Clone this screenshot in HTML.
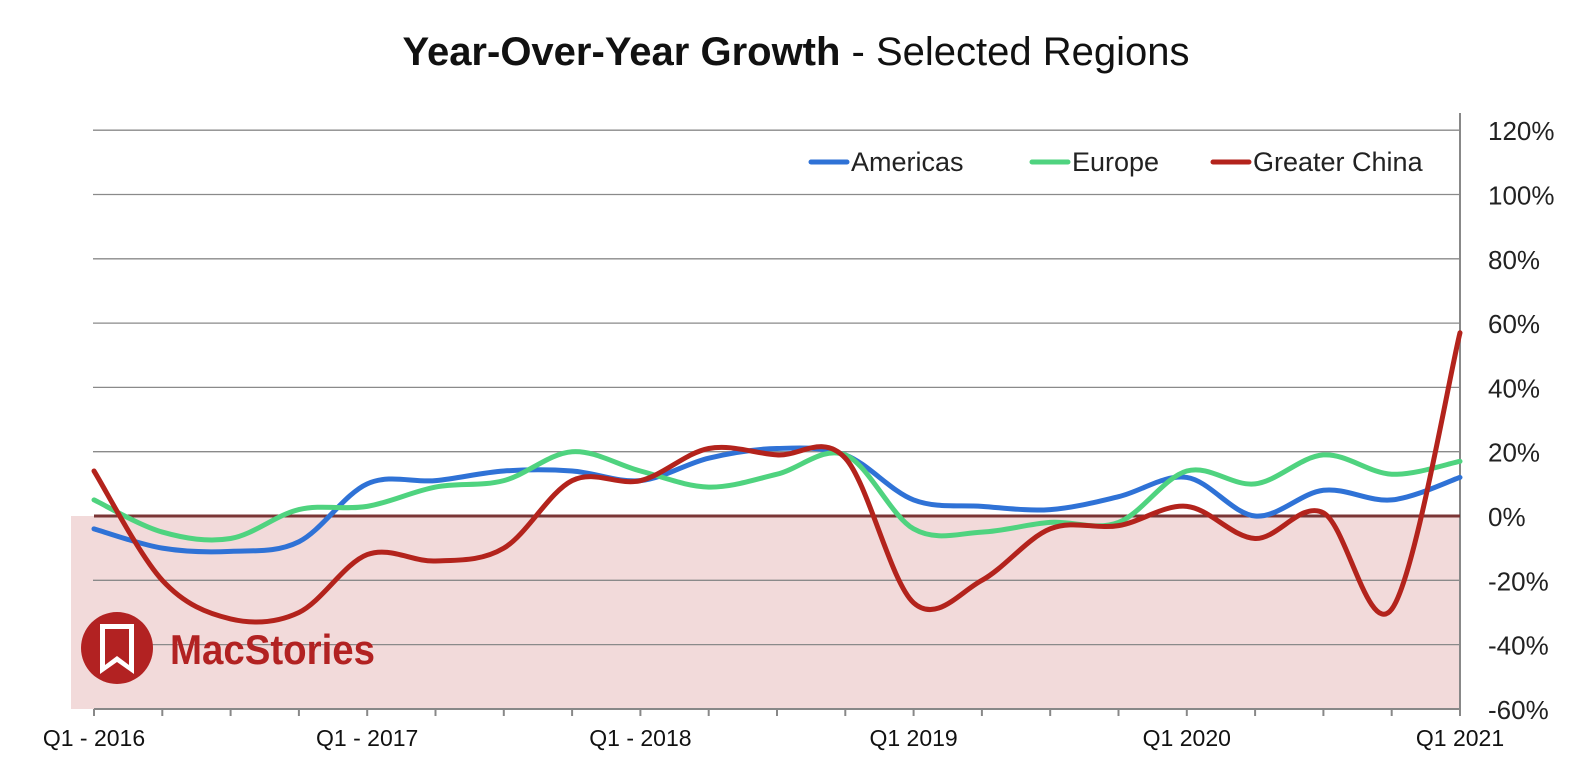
<!DOCTYPE html>
<html><head><meta charset="utf-8"><style>
body{margin:0;background:#fff;}
svg{display:block;font-family:"Liberation Sans",Arial,sans-serif;}
</style></head><body>
<svg id="chart" width="1590" height="772" viewBox="0 0 1590 772">
<text x="796" y="65" text-anchor="middle" font-size="40" fill="#111"><tspan font-weight="bold">Year-Over-Year Growth</tspan> - Selected Regions</text>
<rect x="71" y="516" width="1389" height="193" fill="#f2dada"/>
<g id="grid"></g>
<g id="logo">
<circle cx="117" cy="648" r="36" fill="#b22222"/>
<path d="M100 624 H134 V674 L117 662 L100 674 Z" fill="#fff"/>
<path d="M105 629 H129 V665 L117 656 L105 665 Z" fill="#b22222"/>
<text x="170" y="664" font-size="42" font-weight="bold" fill="#b22222" textLength="205" lengthAdjust="spacingAndGlyphs">MacStories</text>
</g>
<g id="series"></g>
<g id="legend"></g>
</svg>
<script>
const categories=["Q1 - 2016","","","","Q1 - 2017","","","","Q1 - 2018","","","","Q1 2019","","","","Q1 2020","","","","Q1 2021"];
const americas=[-4,-10,-11,-8,10,11,14,14,11,18,21,19,5,3,2,6,12,0,8,5,12];
const europe=[5,-5,-7,2,3,9,11,20,14,9,13,19,-4,-5,-2,-2,14,10,19,13,17];
const china=[14,-20,-32,-30,-12,-14,-10,11,11,21,19,18,-27,-20,-4,-3,3,-7,1,-29,57];
const yTicks=[120,100,80,60,40,20,0,-20,-40,-60];
const seriesNames=["Americas","Europe","Greater China"];
const seriesColors=["#2f72d6","#4fd37f","#b3231c"];
const NS="http://www.w3.org/2000/svg";
const x0=94,x1=1460,y0=516,pxPer=64.3/20;
function xs(i){return x0+i*(x1-x0)/(categories.length-1);}
function ys(v){return y0-v*pxPer;}
function mk(tag,attrs,parent){const e=document.createElementNS(NS,tag);for(const k in attrs)e.setAttribute(k,attrs[k]);parent.appendChild(e);return e;}
const grid=document.getElementById('grid');
yTicks.forEach(t=>{
  if(t!==0&&t!==-60){const l=mk('line',{x1:93,x2:1460,y1:ys(t),y2:ys(t),stroke:'#8a8a8a','stroke-width':1.3},grid);
  
  }
  const tx=mk('text',{x:1488,y:ys(t)+10,'font-size':26,fill:'#222'},grid);tx.textContent=t+'%';
  
  
});
const ax=mk('line',{x1:1460,x2:1460,y1:113,y2:710,stroke:'#888','stroke-width':2},grid);


const bx=mk('line',{x1:94,x2:1460,y1:709,y2:709,stroke:'#888','stroke-width':2},grid);


categories.forEach((c,i)=>{
  const tk=mk('line',{x1:xs(i),x2:xs(i),y1:709,y2:716,stroke:'#888','stroke-width':2},grid);
  
  
  if(c){const tx=mk('text',{x:xs(i),y:746,'font-size':23,fill:'#111','text-anchor':'middle'},grid);
  tx.textContent=c;
  
  }
});
const zl=mk('line',{x1:94,x2:1460,y1:y0,y2:y0,stroke:'#7a3535','stroke-width':3},grid);


function smooth(vals){
  const p=vals.map((v,i)=>[xs(i),ys(v)]);
  let d='M'+p[0][0]+' '+p[0][1];
  for(let i=0;i<p.length-1;i++){
    const a=p[Math.max(0,i-1)],b=p[i],c=p[i+1],e=p[Math.min(p.length-1,i+2)];
    const c1=[b[0]+(c[0]-a[0])/6,b[1]+(c[1]-a[1])/6],c2=[c[0]-(e[0]-b[0])/6,c[1]-(e[1]-b[1])/6];
    d+=' C'+c1[0]+' '+c1[1]+' '+c2[0]+' '+c2[1]+' '+c[0]+' '+c[1];
  }
  return d;
}
const sg=document.getElementById('series');
[americas,europe,china].forEach((vals,k)=>{
  const p=mk('path',{d:smooth(vals),fill:'none',stroke:seriesColors[k],'stroke-width':5,'stroke-linecap':'round','stroke-linejoin':'round'},sg);
  
  
});
const lg=document.getElementById('legend');
const lx=[811,1032,1213];
seriesNames.forEach((n,k)=>{
  const l=mk('line',{x1:lx[k],x2:lx[k]+36,y1:162,y2:162,stroke:seriesColors[k],'stroke-width':5,'stroke-linecap':'round'},lg);
  
  
  const t=mk('text',{x:lx[k]+40,y:171,'font-size':27,fill:'#222'},lg);t.textContent=n;
  
  
});
</script>
</body></html>
